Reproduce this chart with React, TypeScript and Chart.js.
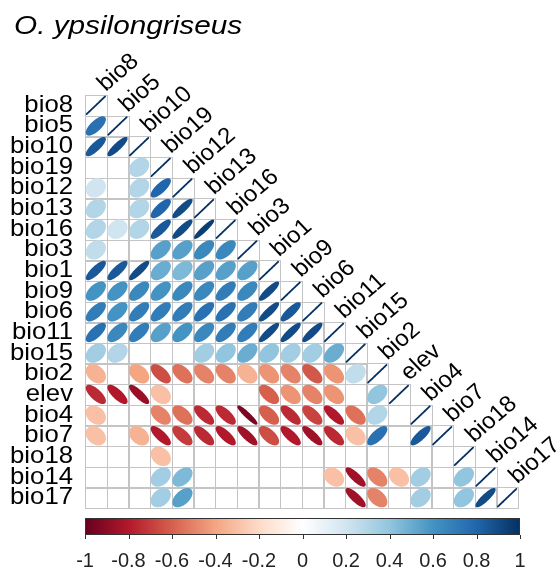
import { useEffect, useRef } from 'react';
import { Chart, registerables } from 'chart.js';

Chart.register(...registerables);

const chartTitle = 'O. ypsilongriseus';

const variables = [
  'bio8', 'bio5', 'bio10', 'bio19', 'bio12', 'bio13', 'bio16', 'bio3', 'bio1', 'bio9',
  'bio6', 'bio11', 'bio15', 'bio2', 'elev', 'bio4', 'bio7', 'bio18', 'bio14', 'bio17',
];

// Lower triangle of the correlation matrix, one row per variable (null = not significant, blank)
const rowBio8 = [1];
const rowBio5 = [0.75, 1];
const rowBio10 = [0.85, 0.9, 1];
const rowBio19 = [null, null, 0.3, 1];
const rowBio12 = [0.2, null, 0.3, 0.8, 1];
const rowBio13 = [0.3, null, 0.3, 0.8, 0.9, 1];
const rowBio16 = [0.3, 0.2, 0.3, 0.85, 0.9, 0.95, 1];
const rowBio3 = [0.25, null, null, 0.55, 0.55, 0.65, 0.65, 1];
const rowBio1 = [0.85, 0.85, 0.9, 0.5, 0.45, 0.55, 0.55, 0.55, 1];
const rowBio9 = [0.6, 0.6, 0.65, 0.6, 0.65, 0.65, 0.7, 0.65, 0.9, 1];
const rowBio6 = [0.7, 0.6, 0.7, 0.7, 0.7, 0.75, 0.75, 0.7, 0.9, 0.85, 1];
const rowBio11 = [0.75, 0.65, 0.7, 0.55, 0.6, 0.65, 0.7, 0.7, 0.9, 0.9, 0.9, 1];
const rowBio15 = [0.35, 0.3, null, null, null, 0.35, 0.4, 0.5, 0.4, 0.35, 0.35, 0.5, 1];
const rowBio2 = [-0.35, null, -0.4, -0.65, -0.55, -0.5, -0.5, -0.35, -0.45, -0.5, -0.62, -0.45, 0.25, 1];
const rowElev = [-0.75, -0.8, -0.87, -0.3, null, null, null, null, -0.6, -0.45, -0.5, -0.45, null, 0.4, 1];
const rowBio4 = [-0.3, null, null, -0.5, -0.55, -0.75, -0.75, -0.95, -0.6, -0.75, -0.68, -0.8, -0.55, 0.3, null, 1];
const rowBio7 = [-0.3, null, -0.35, -0.8, -0.7, -0.75, -0.8, -0.85, -0.65, -0.8, -0.85, -0.75, -0.3, 0.75, null, 0.85, 1];
const rowBio18 = [null, null, null, -0.3, null, null, null, null, null, null, null, null, null, null, null, null, null, 1];
const rowBio14 = [null, null, null, 0.35, 0.45, null, null, null, null, null, null, -0.3, -0.85, -0.5, -0.3, 0.35, null, 0.4, 1];
const rowBio17 = [null, null, null, 0.35, 0.55, null, null, null, null, null, null, null, -0.85, -0.5, null, 0.35, null, 0.4, 0.9, 1];

const corrRows = [
  rowBio8, rowBio5, rowBio10, rowBio19, rowBio12, rowBio13, rowBio16, rowBio3, rowBio1, rowBio9,
  rowBio6, rowBio11, rowBio15, rowBio2, rowElev, rowBio4, rowBio7, rowBio18, rowBio14, rowBio17,
];

const legendTicks = [-1, -0.8, -0.6, -0.4, -0.2, 0, 0.2, 0.4, 0.6, 0.8, 1];
const legendLabels = ['-1', '-0.8', '-0.6', '-0.4', '-0.2', '0', '0.2', '0.4', '0.6', '0.8', '1'];

const paletteStops = [
  '#67001F', '#B2182B', '#D6604D', '#F4A582', '#FDDBC7', '#FFFFFF',
  '#D1E5F0', '#92C5DE', '#4393C3', '#2166AC', '#053061',
];

function hexToRgb(h: string) {
  return [parseInt(h.slice(1, 3), 16), parseInt(h.slice(3, 5), 16), parseInt(h.slice(5, 7), 16)];
}

function colorFor(r: number) {
  const t = ((r + 1) / 2) * (paletteStops.length - 1);
  const i = Math.min(Math.floor(t), paletteStops.length - 2);
  const f = t - i;
  const a = hexToRgb(paletteStops[i]);
  const b = hexToRgb(paletteStops[i + 1]);
  const c = a.map((v, k) => Math.round(v + (b[k] - v) * f));
  return `rgb(${c[0]},${c[1]},${c[2]})`;
}

function drawText(
  ctx: CanvasRenderingContext2D, text: string, x: number, y: number, font: string,
  align: CanvasTextAlign, baseline: CanvasTextBaseline, sx: number, rot = 0, color = '#000',
) {
  ctx.save();
  ctx.translate(x, y);
  ctx.scale(sx, 1);
  if (rot) ctx.rotate(rot);
  ctx.font = font;
  ctx.textAlign = align;
  ctx.textBaseline = baseline;
  ctx.fillStyle = color;
  ctx.fillText(text, 0, 0);
  ctx.restore();
}

const corrPlugin = {
  id: 'corrEllipses',
  afterDatasetsDraw(chart: any) {
    const ctx: CanvasRenderingContext2D = chart.ctx;
    const xs = chart.scales.x;
    const ys = chart.scales.y;
    const cw = xs.getPixelForValue(1) - xs.getPixelForValue(0);
    const ch = ys.getPixelForValue(1) - ys.getPixelForValue(0);
    const n = variables.length;

    // grid of the lower triangle
    ctx.save();
    ctx.strokeStyle = '#C4C4C4';
    ctx.lineWidth = 1;
    for (let i = 0; i < n; i++) {
      for (let j = 0; j <= i; j++) {
        const x0 = xs.getPixelForValue(j - 0.5);
        const y0 = ys.getPixelForValue(i - 0.5);
        ctx.strokeRect(Math.round(x0) + 0.5, Math.round(y0) + 0.5, Math.round(cw), Math.round(ch));
      }
    }
    ctx.restore();

    // ellipses
    const pts = chart.data.datasets[0].data as { x: number; y: number; r: number }[];
    ctx.save();
    ctx.lineWidth = 1.8;
    ctx.lineJoin = 'round';
    pts.forEach((p) => {
      const cx = xs.getPixelForValue(p.x);
      const cy = ys.getPixelForValue(p.y);
      const d = Math.acos(Math.max(-1, Math.min(1, p.r)));
      const col = colorFor(p.r);
      ctx.beginPath();
      const steps = 99;
      for (let k = 0; k < steps; k++) {
        const t = (2 * Math.PI * k) / (steps - 1);
        const ex = (Math.cos(t + d / 2) / 2) * 0.85;
        const ey = (Math.cos(t - d / 2) / 2) * 0.85;
        const px = cx + ex * cw;
        const py = cy - ey * ch;
        if (k === 0) ctx.moveTo(px, py);
        else ctx.lineTo(px, py);
      }
      ctx.closePath();
      ctx.fillStyle = col;
      ctx.strokeStyle = col;
      ctx.fill();
      ctx.stroke();
    });
    ctx.restore();

    // row labels
    const labelFont = '24.5px "Liberation Sans", Arial, sans-serif';
    const colFont = '23px "Liberation Sans", Arial, sans-serif';
    const left = xs.getPixelForValue(-0.5);
    variables.forEach((v, i) => {
      const cy = ys.getPixelForValue(i);
      drawText(ctx, v, left - 12, cy + 6.5, labelFont, 'right', 'alphabetic', 1.05);
    });
    // column labels along the diagonal
    variables.forEach((v, j) => {
      const cx = xs.getPixelForValue(j);
      const top = ys.getPixelForValue(j - 0.5);
      drawText(ctx, v, cx + 10, top - 3, colFont, 'left', 'alphabetic', 1.05, -0.73);
    });

    // title
    drawText(ctx, chartTitle, 14, 34, 'italic 25px "Liberation Sans", Arial, sans-serif', 'left', 'alphabetic', 1.19);

    // colour legend
    const bx0 = left;
    const bx1 = xs.getPixelForValue(n - 0.5) + 2;
    const by0 = 518;
    const by1 = 535;
    const grad = ctx.createLinearGradient(bx0, 0, bx1, 0);
    paletteStops.forEach((c, k) => grad.addColorStop(k / (paletteStops.length - 1), c));
    ctx.save();
    ctx.fillStyle = grad;
    ctx.fillRect(bx0, by0, bx1 - bx0, by1 - by0);
    ctx.strokeStyle = '#333';
    ctx.lineWidth = 1;
    ctx.strokeRect(bx0 + 0.5, by0 + 0.5, bx1 - bx0 - 1, by1 - by0 - 1);
    legendTicks.forEach((v, k) => {
      const tx = bx0 + ((v + 1) / 2) * (bx1 - bx0);
      const xx = Math.round(tx) + 0.5;
      ctx.beginPath();
      ctx.moveTo(xx, by1);
      ctx.lineTo(xx, by1 + 4);
      ctx.stroke();
      drawText(ctx, legendLabels[k], tx, 567, '21px "Liberation Sans", Arial, sans-serif', 'center', 'alphabetic', 0.95, 0, '#222');
    });
    ctx.restore();
  },
};

export default function App() {
  const ref = useRef<HTMLCanvasElement | null>(null);
  useEffect(() => {
    if (!ref.current) return;
    const pts: { x: number; y: number; r: number }[] = [];
    corrRows.forEach((row, i) => {
      row.forEach((r, j) => {
        if (r !== null) pts.push({ x: j, y: i, r: r as number });
      });
    });
    const chart = new Chart(ref.current, {
      type: 'scatter',
      data: {
        datasets: [
          {
            data: pts,
            pointRadius: 0,
            pointHoverRadius: 0,
          },
        ],
      },
      options: {
        animation: false,
        responsive: false,
        maintainAspectRatio: false,
        events: [],
        layout: { padding: { left: 85, top: 95, right: 38, bottom: 69 } },
        scales: {
          x: { type: 'linear', min: -0.5, max: variables.length - 0.5, display: false },
          y: { type: 'linear', min: -0.5, max: variables.length - 0.5, reverse: true, display: false },
        },
        plugins: {
          legend: { display: false },
          tooltip: { enabled: false },
          title: { display: false },
        },
      },
      plugins: [corrPlugin],
    });
    return () => chart.destroy();
  }, []);
  return (
    <div style={{ position: 'fixed', left: 0, top: 0, width: 556, height: 577, background: '#fff' }}>
      <canvas ref={ref} width={556} height={577} style={{ width: 556, height: 577, display: 'block' }} />
    </div>
  );
}
